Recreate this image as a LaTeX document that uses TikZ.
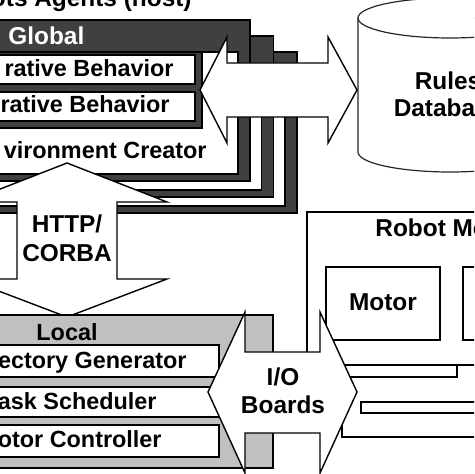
\documentclass[tikz,border=0pt]{standalone}
\usepackage{fontspec}
\setmainfont{Liberation Sans}
\definecolor{dkgray}{RGB}{64,64,64}
\definecolor{ltgray}{RGB}{192,192,192}
\begin{document}
\begin{tikzpicture}[x=0.5pt,y=-0.5pt,
  outl/.style={draw=black,line width=0.7pt},
  darkbox/.style={outl,fill=dkgray},
  whitebox/.style={outl,fill=white},
  lightbox/.style={outl,fill=ltgray},
  blockarrow/.style={outl,fill=white,line join=miter},
  cyl/.style={draw=black!85,line width=0.6pt,fill=white},
  lbl/.style={font=\fontsize{12.2}{15}\selectfont\bfseries,inner sep=0pt},
  inlbl/.style={font=\fontsize{11.7}{14}\selectfont\bfseries,inner sep=0pt},
]
\useasboundingbox (0,0) rectangle (474,474);
\clip (0,0) rectangle (474,474);
% title (cut at top)
\node[lbl,anchor=base east] (title) at (192,7) {ots Agents (host)};
% stacked Global boxes (back to front)
\foreach \i in {2,1} {
  \draw[darkbox] ({-100+23.5*\i},{20+16*\i}) rectangle ({250+23.5*\i},{181+16*\i});
  \draw[whitebox] ({-100+23.5*\i},{52+16*\i}) rectangle ({238+23.5*\i},{174+16*\i});
}
\draw[darkbox] (-100,20) rectangle (250,181);
\draw[whitebox] (-100,52) rectangle (238,174);
\draw[darkbox] (-100,52) rectangle (202,128);
\draw[whitebox] (-100,55) rectangle (195,84);
\draw[whitebox] (-100,92) rectangle (195,121);
\node[lbl,anchor=base west,text=white] (global) at (8,45) {Global};
\node[inlbl,anchor=base east] (beh1) at (174,77) {rative Behavior};
\node[inlbl,anchor=base east] (beh2) at (170,113) {rative Behavior};
\node[inlbl,anchor=base east] (env) at (207,159) {vironment Creator};
% horizontal double arrow
\draw[blockarrow] (200,90) -- (227,37) -- (227,63) -- (328,63) -- (328,37) -- (357,90)
  -- (328,143) -- (328,117) -- (227,117) -- (227,143) -- cycle;
% Rules database cylinder
\draw[cyl] (358,18)
  -- plot[domain=180:360,samples=60,smooth] ({450+92*cos(\x)},{152-20*sin(\x)})
  -- (542,18) -- cycle;
\draw[cyl] (450,18) ellipse [x radius=92, y radius=20];
\node[lbl,anchor=base] (rules) at (448,90) {Rules};
\node[lbl,anchor=base] (db) at (448,117) {Database};
% HTTP/CORBA vertical double arrow
\draw[blockarrow] (67,163) -- (167,202) -- (117,202) -- (117,279) -- (167,279) -- (67,317)
  -- (-33,279) -- (17,279) -- (17,202) -- (-33,202) -- cycle;
\node[lbl,anchor=base] (http) at (67,233) {HTTP/};
\node[lbl,anchor=base] (corba) at (67,262) {CORBA};
% Local box
\draw[lightbox] (-100,315) rectangle (273,468);
\draw[whitebox] (-100,345) rectangle (219,377);
\draw[whitebox] (-100,387) rectangle (219,417);
\draw[whitebox] (-100,425) rectangle (219,457);
\node[inlbl,anchor=base] (local) at (67,340) {Local};
\node[inlbl,anchor=base east] (traj) at (187,368) {ectory Generator};
\node[inlbl,anchor=base east] (task) at (157,409) {ask Scheduler};
\node[inlbl,anchor=base east] (motc) at (162,447) {otor Controller};
% Robot box
\draw[whitebox] (307,212) rectangle (520,365);
\draw[whitebox] (326,267) rectangle (440,340);
\draw[whitebox] (463,267) rectangle (560,340);
\node[lbl,anchor=base west] (robot) at (375,237) {Robot Mo};
\node[lbl,anchor=base] (motor) at (383,311) {Motor};
\draw[whitebox] (330,365) rectangle (457,377);
\draw[whitebox] (361,402) rectangle (520,413);
\draw[outl] (342,400) -- (342,437) -- (520,437);
% I/O double arrow
\draw[blockarrow] (208,392) -- (245,312) -- (245,352) -- (320,352) -- (320,312) -- (357,392)
  -- (320,473) -- (320,433) -- (245,433) -- (245,473) -- cycle;
\node[lbl,anchor=base] (io) at (283,385) {I/O};
\node[lbl,anchor=base] (boards) at (283,413) {Boards};
\end{tikzpicture}
\end{document}
